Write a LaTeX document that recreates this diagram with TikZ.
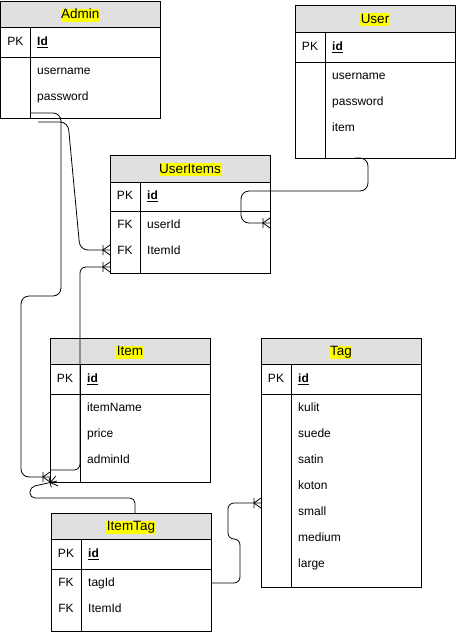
\documentclass[tikz,border=0pt]{standalone}
\usepackage{fontspec}
\setmainfont{Liberation Sans}
\usetikzlibrary{decorations.markings}
\definecolor{hdrgray}{HTML}{E0E0E0}
\definecolor{hilite}{HTML}{FFFF00}
\tikzset{
  tline/.style={draw=black, line width=0.9pt},
  tabbox/.style={draw=black, line width=0.9pt, inner sep=0pt, outer sep=0pt},
  ttl/.style={fill=hilite, anchor=base, inner xsep=0.5pt, inner ysep=0.3pt, text height=9.8pt, text depth=2.6pt, font=\fontsize{13.5}{15}\selectfont},
  fld/.style={anchor=west, inner sep=0pt, text height=6.4pt, text depth=0pt, font=\fontsize{12}{14}\selectfont},
  pkcol/.style={anchor=center, inner sep=0pt, text height=6.4pt, text depth=0pt, font=\fontsize{12}{14}\selectfont},
  conn/.style={draw=black, line width=0.8pt, rounded corners=8pt},
  crowend/.style={postaction={decorate}, decoration={markings, mark=at position 1 with {\draw[line width=0.8pt, sharp corners] (-7,-5) -- (-7,5) (0,5) -- (-7,0) -- (0,-5);}}},
}
% #1 name, #2 left, #3 top, #4 right, #5 bottom, #6 header bottom, #7 pk bottom, #8 title
\newcommand{\ertab}[8]{%
  \fill[hdrgray] (#2,#3) rectangle (#4,#6);
  \draw[tline] (#2,#6) -- (#4,#6) (#2,#7) -- (#4,#7) ({#2+30},#6) -- ({#2+30},#5);
  \node[tabbox, minimum width={(#4-#2)*1pt}, minimum height={(#5-#3)*1pt}] (#1) at ({(#2+#4)/2},{(#3+#5)/2}) {};
  \node[ttl] (#1-title) at ({(#2+#4)/2},{(#3+#6)/2+4.8}) {#8};
}
\newcommand{\idu}[1]{\underline{\textbf{#1}}}
\begin{document}
\begin{tikzpicture}[x=1pt, y=-1pt]
\useasboundingbox (0,0) rectangle (456,632);

% ---------- Admin ----------
\ertab{admin}{0.5}{1}{160}{118}{27}{57}{Admin}
\node[pkcol] (admin-pk) at (15.5,42) {PK};
\node[fld] (admin-id) at (37,42) {\idu{Id}};
\node[fld] (admin-f1) at (37,71.5) {username};
\node[fld] (admin-f2) at (37,97.5) {password};

% ---------- User ----------
\ertab{user}{295}{5}{455}{158}{32}{62}{User}
\node[pkcol] (user-pk) at (310,47) {PK};
\node[fld] (user-id) at (332,47) {\idu{id}};
\node[fld] (user-f1) at (332,76) {username};
\node[fld] (user-f2) at (332,102) {password};
\node[fld] (user-f3) at (332,128) {item};

% ---------- UserItems ----------
\ertab{ui}{110}{155}{270}{273}{182}{211}{UserItems}
\node[pkcol] (ui-pk) at (125,196.5) {PK};
\node[fld] (ui-id) at (147,196.5) {\idu{id}};
\node[pkcol] (ui-fk1) at (125,225.5) {FK};
\node[fld] (ui-f1) at (147,225.5) {userId};
\node[pkcol] (ui-fk2) at (125,251.5) {FK};
\node[fld] (ui-f2) at (147,251.5) {ItemId};

% ---------- Item ----------
\ertab{item}{50}{338}{210}{482}{364}{394}{Item}
\node[pkcol] (item-pk) at (65,379) {PK};
\node[fld] (item-id) at (87,379) {\idu{id}};
\node[fld] (item-f1) at (87,408.5) {itemName};
\node[fld] (item-f2) at (87,434.5) {price};
\node[fld] (item-f3) at (87,460.5) {adminId};

% ---------- Tag ----------
\ertab{tag}{261}{338}{421}{587}{364}{394}{Tag}
\node[pkcol] (tag-pk) at (276,379) {PK};
\node[fld] (tag-id) at (298,379) {\idu{id}};
\node[fld] (tag-f1) at (298,408.5) {kulit};
\node[fld] (tag-f2) at (298,434.5) {suede};
\node[fld] (tag-f3) at (298,460.5) {satin};
\node[fld] (tag-f4) at (298,486.5) {koton};
\node[fld] (tag-f5) at (298,512.5) {small};
\node[fld] (tag-f6) at (298,538.5) {medium};
\node[fld] (tag-f7) at (298,564.5) {large};

% ---------- ItemTag ----------
\ertab{it}{51}{513}{211}{631}{539}{569}{ItemTag}
\node[pkcol] (it-pk) at (66,554) {PK};
\node[fld] (it-id) at (88,554) {\idu{id}};
\node[pkcol] (it-fk1) at (66,583.5) {FK};
\node[fld] (it-f1) at (88,583.5) {tagId};
\node[pkcol] (it-fk2) at (66,609.5) {FK};
\node[fld] (it-f2) at (88,609.5) {ItemId};

% ---------- connector end points ----------
\coordinate (admOut1) at (38,122);
\coordinate (admOut2) at (30,113);
\coordinate (uiItemIn) at (110,250);
\coordinate (uiItemIn2) at (110,267);
\coordinate (uiUserIn) at (270,223);
\coordinate (userOut) at (355,158);
\coordinate (itemAdmIn) at (50,477);
\coordinate (itemOut) at (50,470);
\coordinate (itemIn2) at (57,481);
\coordinate (itOut) at (135,513);
\coordinate (itTagOut) at (211,583);
\coordinate (tagIn) at (261,503);

% ---------- connectors ----------
\draw[conn, crowend] (admOut1) -- (68,122) -- (80,250) -- (uiItemIn);
\draw[conn, crowend] (admOut2) -- (61,113) -- (61,296) -- (21,296) -- (21,477) -- (itemAdmIn);
\draw[conn, rounded corners=6pt, crowend] (itemOut) -- (80,470) -- (80,267) -- (uiItemIn2);
\draw[conn, crowend] (userOut) -- (368,158) -- (368,191) -- (241,191) -- (241,223) -- (uiUserIn);
\draw[conn, rounded corners=5pt, crowend] (itOut) -- (135,498) -- (30,498) -- (30,487) -- (itemIn2);
\draw[conn, rounded corners=6pt, crowend] (itTagOut) -- (240,583) -- (240,539) -- (228,539) -- (228,503) -- (tagIn);
\end{tikzpicture}
\end{document}
